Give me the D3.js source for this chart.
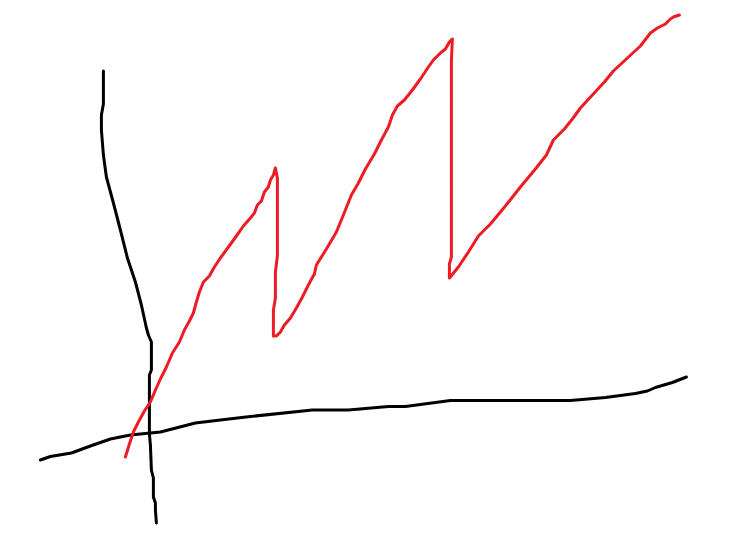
<!DOCTYPE html>
<html><head><meta charset="utf-8">
<script src="https://cdn.jsdelivr.net/npm/d3@7"></script>
<style>html,body{margin:0;padding:0;background:#fff}svg{display:block}</style>
</head><body><svg id="c" width="749" height="538"></svg>
<script>
const redX=[125,129,133,138,144,150,155,160,166,172,179,184,189,193,196,199,203,209,214,220,228,236,243,250,254,257,261,264,268,270,273,275,277,277,277,275,275,273,273,276,280,284,290,296,302,309,314,316,326,336,343,351,358,365,374,381,388,392,397,404,412,420,428,433,440,445,449,452,451,451,451,449,449,458,468,478,490,505,520,535,546,553,564,572,580,592,604,613,627,640,650,657,665,670,673,679];
const redY=[457,444,432,422,411,402,390,379,367,353,342,330,321,313,302,292,282,276,267,258,247,236,226,218,213,205,201,192,187,180,175,168,178,200,256,272,298,310,336,336,332,325,318,308,297,283,274,265,249,232,215,195,183,169,154,140,127,115,106,100,90,79,67,60,53,49,42,39,60,200,257,264,278,267,252,236,224,206,187,169,155,140,129,119,108,95,82,71,58,46,33,28,24,19,17,15];
const vertX=[103,103,101,101,103,106,113,120,127,135,141,146,148,151,151,149,149,150,151,153,153,155,155,156];
const vertY=[71,104,115,130,155,177,203,230,258,282,305,328,335,342,370,375,434,445,470,478,497,503,510,523];
const horizX=[40,50,71,90,110,130,160,195,220,250,312,348,388,405,450,470,570,605,635,647,655,672,686];
const horizY=[460,456.5,453,446,439,435,432,423,420,416.5,410,410,406.5,406.5,400.5,400.5,400.5,397.5,393.5,391,387.5,382.5,377];

const x=d3.scaleLinear().domain([0,749]).range([0.4,749.4]);
const y=d3.scaleLinear().domain([0,538]).range([0,538]);
const line=d3.line().x(d=>x(d[0])).y(d=>y(d[1])).curve(d3.curveLinear);
const svg=d3.select("#c");
const series=[
  {xs:vertX,ys:vertY,color:"#000000"},
  {xs:horizX,ys:horizY,color:"#000000"},
  {xs:redX,ys:redY,color:"#ed1c24"}
];
svg.selectAll("path").data(series).join("path")
  .attr("d",s=>line(d3.zip(s.xs,s.ys)))
  .attr("fill","none").attr("stroke",s=>s.color)
  .attr("stroke-width",3).attr("stroke-linejoin","round").attr("stroke-linecap","round");
</script></body></html>
